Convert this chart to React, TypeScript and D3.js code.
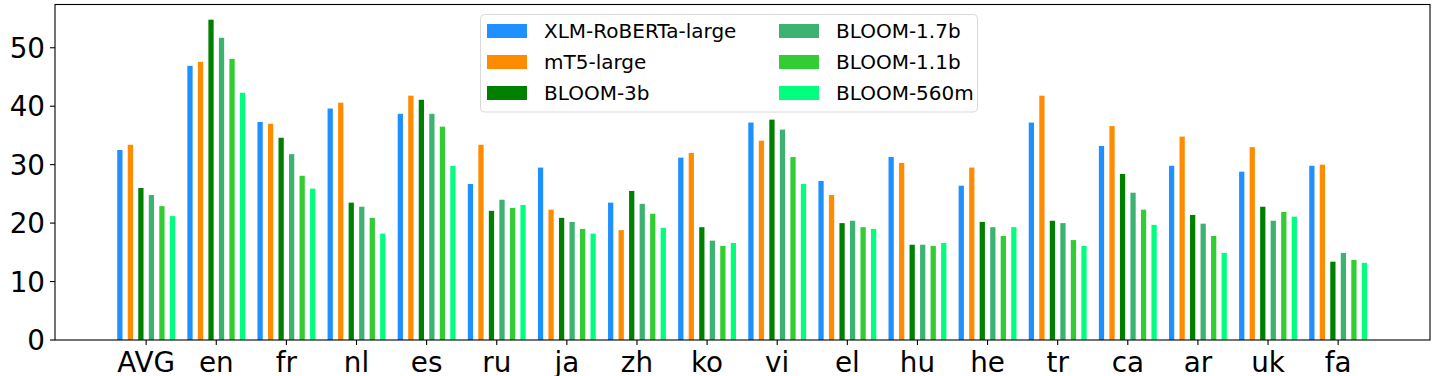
import React from "react";
import { scaleLinear } from "d3";

const categories = ["AVG", "en", "fr", "nl", "es", "ru", "ja", "zh", "ko", "vi", "el", "hu", "he", "tr", "ca", "ar", "uk", "fa"];
const seriesNames = ["XLM-RoBERTa-large", "mT5-large", "BLOOM-3b", "BLOOM-1.7b", "BLOOM-1.1b", "BLOOM-560m"];
const colors = ["#1E90FF", "#FF8C00", "#008000", "#3CB371", "#32CD32", "#00FF7F"];

const xlmr = [32.5, 46.9, 37.3, 39.6, 38.7, 26.7, 29.5, 23.5, 31.2, 37.2, 27.2, 31.3, 26.4, 37.2, 33.2, 29.8, 28.8, 29.8];
const mt5 = [33.4, 47.6, 37.0, 40.6, 41.8, 33.4, 22.3, 18.8, 32.0, 34.1, 24.8, 30.3, 29.5, 41.8, 36.6, 34.8, 33.0, 30.0];
const bloom3b = [26.0, 54.8, 34.6, 23.5, 41.1, 22.1, 20.9, 25.5, 19.3, 37.7, 20.0, 16.3, 20.2, 20.4, 28.4, 21.4, 22.8, 13.4];
const bloom17b = [24.8, 51.7, 31.8, 22.8, 38.7, 24.0, 20.2, 23.3, 17.0, 36.0, 20.4, 16.3, 19.3, 20.0, 25.2, 19.9, 20.4, 14.9];
const bloom11b = [22.9, 48.1, 28.1, 20.9, 36.5, 22.6, 19.0, 21.6, 16.1, 31.3, 19.3, 16.1, 17.8, 17.1, 22.3, 17.8, 21.9, 13.7];
const bloom560m = [21.2, 42.3, 25.9, 18.2, 29.8, 23.1, 18.2, 19.2, 16.6, 26.7, 19.0, 16.6, 19.3, 16.1, 19.7, 14.9, 21.1, 13.2];

const series = [xlmr, mt5, bloom3b, bloom17b, bloom11b, bloom560m];
const yTicks = [0, 10, 20, 30, 40, 50];

const W = 1440;
const H = 376;
const left = 55;
const right = 1430;
const top = 4.5;
const bottom = 340;

const App = () => {
  const x = scaleLinear().domain([-1.3, 18.31]).range([left, right]);
  const y = scaleLinear().domain([0, 57.4]).range([bottom, top]);
  const step = 0.15;
  const bw = 0.075;
  const font = "DejaVu Sans";

  return (
    <div style={{ position: "absolute", left: 0, top: 0 }}>
      <svg width={W} height={H} style={{ display: "block" }}>
        <rect x={0} y={0} width={W} height={H} fill="white" />
        {series.map((vals, s) =>
          vals.map((v, i) => {
            const cx = i + (s - 2.5) * step;
            return (
              <rect
                key={`${s}-${i}`}
                x={x(cx - bw / 2)}
                y={y(v)}
                width={x(cx + bw / 2) - x(cx - bw / 2)}
                height={y(0) - y(v)}
                fill={colors[s]}
              />
            );
          })
        )}
        <rect x={left} y={top} width={right - left} height={bottom - top} fill="none" stroke="black" strokeWidth={1.1} />
        {yTicks.map((t) => (
          <g key={t}>
            <line x1={left - 5} x2={left} y1={y(t)} y2={y(t)} stroke="black" strokeWidth={1.1} />
            <text x={left - 10} y={y(t)} dy="0.36em" textAnchor="end" fontFamily={font} fontSize={27.8} fill="black">
              {t}
            </text>
          </g>
        ))}
        {categories.map((c, i) => (
          <g key={c}>
            <line x1={x(i)} x2={x(i)} y1={bottom} y2={bottom + 5} stroke="black" strokeWidth={1.1} />
            <text x={x(i)} y={372} textAnchor="middle" fontFamily={font} fontSize={27.8} fill="black">
              {c}
            </text>
          </g>
        ))}
        <g>
          <rect x={480.5} y={14.5} width={497} height={97.5} rx={4} fill="white" fillOpacity={0.8} stroke="#d9d9d9" strokeWidth={1} />
          {seriesNames.map((name, s) => {
            const col = Math.floor(s / 3);
            const row = s % 3;
            const px = col === 0 ? 487 : 779;
            const cy = 31 + row * 31;
            return (
              <g key={name}>
                <rect x={px} y={cy - 7} width={40} height={14} fill={colors[s]} />
                <text x={px + 57} y={cy} dy="0.36em" fontFamily={font} fontSize={20} fill="black">
                  {name}
                </text>
              </g>
            );
          })}
        </g>
      </svg>
    </div>
  );
};

export default App;
